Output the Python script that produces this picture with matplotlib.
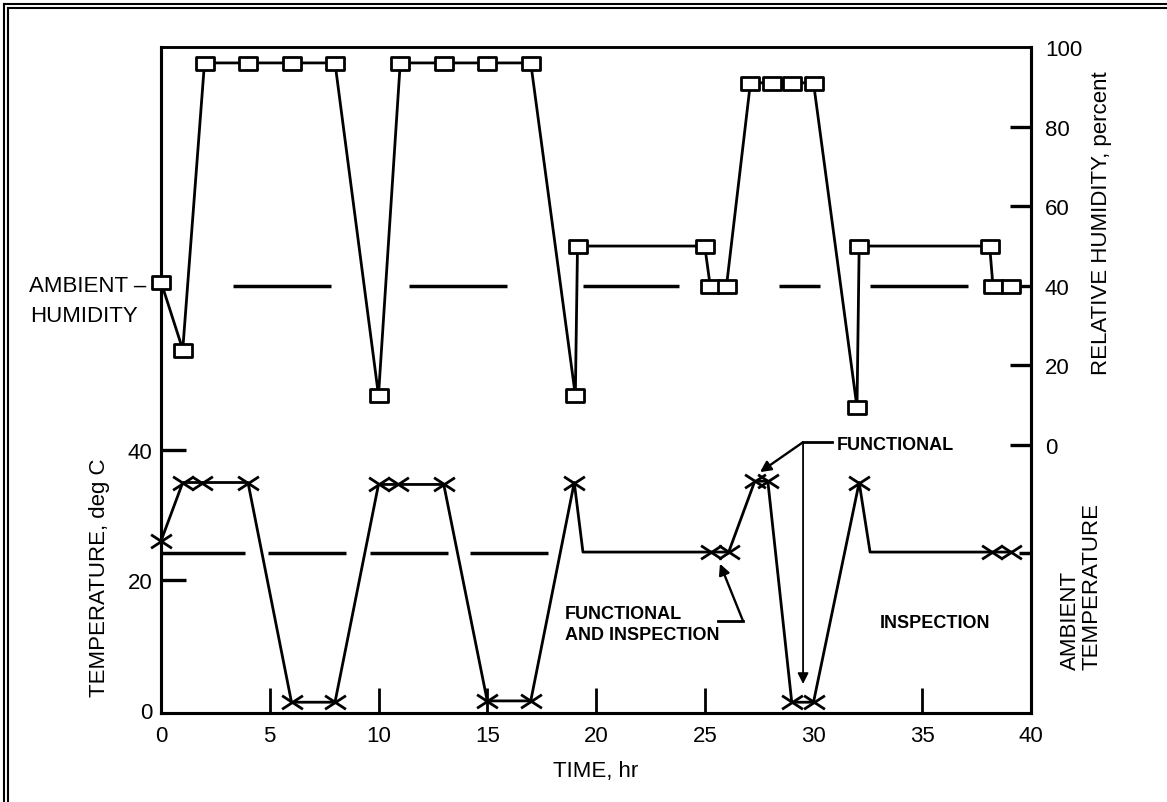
import matplotlib
matplotlib.use("Agg")
import matplotlib.pyplot as plt
from matplotlib.path import Path
from matplotlib.lines import Line2D
from matplotlib import font_manager

names = {f.name for f in font_manager.fontManager.ttflist}
main_font = 'Liberation Sans Narrow' if 'Liberation Sans Narrow' in names else 'Liberation Sans'
plt.rcParams['font.family'] = [main_font, 'Liberation Sans', 'DejaVu Sans']
narrow = main_font == 'Liberation Sans Narrow'
FS = 18 if narrow else 16

# ---------------- data ----------------
hum_time = [0, 1, 2, 4, 6, 8, 10, 11, 13, 15, 17, 19.05, 19.15, 25.0, 25.25, 26.0,
            27.1, 28.1, 29.0, 30.0, 32.0, 32.1, 38.1, 38.25, 39.1]
hum_rh = [41, 24, 96, 96, 96, 96, 12.5, 96, 96, 96, 96, 12.5, 50, 50, 40, 40,
          91, 91, 91, 91, 9.5, 50, 50, 40, 40]

temp_time = [0, 1, 1.9, 4, 6, 8, 10, 10.9, 13, 15, 17, 19, 19.4, 25.3, 26.1,
             27.3, 27.9, 29.0, 30.0, 32.1, 32.6, 38.2, 39.1]
temp_degc = [26, 35, 35, 35, 1.2, 1.2, 34.7, 34.7, 34.7, 1.4, 1.4, 35, 24.3, 24.3, 24.3,
             35.2, 35.2, 1.2, 1.2, 35, 24.3, 24.3, 24.3]
temp_marked = [0, 1, 2, 3, 4, 5, 6, 7, 8, 9, 10, 11, 13, 14, 15, 16, 17, 18, 19, 21, 22]

ambient_rh = 40
ambient_rh_dashes = [(3.3, 7.8), (11.4, 15.9), (19.4, 23.8), (28.4, 30.3), (32.6, 37.1)]
ambient_temp = 24.2
ambient_temp_dashes = [(0.0, 3.85), (4.9, 8.5), (9.6, 13.2), (14.2, 17.8), (39.45, 39.95)]

time_ticks = [0, 5, 10, 15, 20, 25, 30, 35, 40]
time_tick_hidden = [0, 30, 40]
temp_ticks = [0, 20, 40]
temp_tick_hidden = [0]
rh_ticks = [0, 20, 40, 60, 80, 100]
rh_tick_hidden = [100]

# ---------------- layout ----------------
W, H = 1167, 803
fig = plt.figure(figsize=(W / 100, H / 100), dpi=100)


def fx(px):
    return px / W


def fy(py):
    return 1 - py / H


L, R, T, B = 161, 1031, 48, 714
ax = fig.add_axes([fx(L), fy(B), (R - L) / W, (B - T) / H])
ax.set_xlim(0, 40)
ax.set_ylim(-0.46, 102)
ax2 = ax.twinx()
ax2.set_ylim(-67.3, 100)

for a in (ax, ax2):
    for s in a.spines.values():
        s.set_linewidth(2.2)
        s.set_color('black')
    a.spines['top'].set_linewidth(1.8)
    a.patch.set_visible(False)

# frame (double border left & top)
lw_b = 1.5
fig.add_artist(Line2D([fx(3.7), fx(3.7)], [fy(5), 0], color='black', lw=lw_b))
fig.add_artist(Line2D([fx(3.7), 1], [fy(5), fy(5)], color='black', lw=lw_b))
fig.add_artist(Line2D([fx(8.2), fx(8.2)], [fy(8.8), 0], color='black', lw=lw_b))
fig.add_artist(Line2D([fx(8.2), 1], [fy(8.8), fy(8.8)], color='black', lw=lw_b))

# markers
rect_marker = Path([(-1, -0.72), (1, -0.72), (1, 0.72), (-1, 0.72), (-1, -0.72)],
                   [Path.MOVETO, Path.LINETO, Path.LINETO, Path.LINETO, Path.CLOSEPOLY])
x_marker = Path([(-1, -0.65), (1, 0.65), (-1, 0.65), (1, -0.65)],
                [Path.MOVETO, Path.LINETO, Path.MOVETO, Path.LINETO])

# ambient dashed lines
for a0, a1 in ambient_rh_dashes:
    ax2.plot([a0, a1], [ambient_rh, ambient_rh], color='black', lw=2.5, solid_capstyle='butt')
for a0, a1 in ambient_temp_dashes:
    ax.plot([a0, a1], [ambient_temp, ambient_temp], color='black', lw=2.5, solid_capstyle='butt')

# series
ax.plot(temp_time, temp_degc, color='black', lw=2.0, marker=x_marker, markersize=15,
        markeredgewidth=2.0, markevery=temp_marked, clip_on=False, zorder=3)
ax2.plot(hum_time, hum_rh, color='black', lw=2.0, marker=rect_marker, markersize=13,
         markeredgewidth=2.0, markerfacecolor='white', markeredgecolor='black',
         clip_on=False, zorder=3)

# ticks
ax.set_xticks(time_ticks)
ax.set_xticklabels([str(t) for t in time_ticks])
ax.set_yticks(temp_ticks)
ax.set_yticklabels([str(t) for t in temp_ticks])
ax2.set_yticks(rh_ticks)
ax2.set_yticklabels([str(t) for t in rh_ticks])

ax.tick_params(axis='x', direction='in', length=18, width=2, labelsize=FS, pad=9,
               top=False)
ax.tick_params(axis='y', direction='in', length=18, width=2.4, labelsize=FS, pad=6,
               right=False)
ax2.tick_params(axis='y', direction='in', length=15, width=2.4, labelsize=FS, pad=10,
                left=False)

for tk in ax.xaxis.get_major_ticks():
    if tk.get_loc() in time_tick_hidden:
        tk.tick1line.set_visible(False)
for tk in ax.yaxis.get_major_ticks():
    if tk.get_loc() in temp_tick_hidden:
        tk.tick1line.set_visible(False)
for tk in ax2.yaxis.get_major_ticks():
    if tk.get_loc() in rh_tick_hidden:
        tk.tick2line.set_visible(False)

# axis labels
fig.text(fx(596), fy(772), "TIME, hr", ha='center', va='center', fontsize=FS)
fig.text(fx(100), fy(578), "TEMPERATURE, deg C", ha='center', va='center',
         rotation=90, fontsize=FS)
fig.text(fx(1101), fy(223), "RELATIVE HUMIDITY, percent", ha='center', va='center',
         rotation=90, fontsize=FS)
fig.text(fx(1081), fy(670), "AMBIENT\nTEMPERATURE", ha='center', va='bottom',
         rotation=90, fontsize=FS, multialignment='left', linespacing=1.0)
fig.text(fx(29), fy(286), "AMBIENT \u2013", ha='left', va='center', fontsize=FS)
fig.text(fx(30), fy(317), "HUMIDITY", ha='left', va='center', fontsize=FS)

# annotations (temperature axes data coords)
ann_kw = dict(fontsize=13, fontweight='bold', family=['Liberation Sans', 'DejaVu Sans'])
arrow_kw = dict(arrowstyle='-|>', lw=1.7, color='black', mutation_scale=16,
                shrinkA=0, shrinkB=0)
ax.text(31.08, 40.9, "FUNCTIONAL", ha='left', va='center', **ann_kw)
ax.plot([29.52, 30.85], [41.2, 41.2], color='black', lw=2.0, clip_on=False)
ax.annotate("", xy=(27.54, 36.6), xytext=(29.52, 41.2), arrowprops=arrow_kw,
            annotation_clip=False)
ax.annotate("", xy=(29.52, 4.0), xytext=(29.52, 41.2),
            arrowprops=dict(arrow_kw, lw=1.3), annotation_clip=False)

ax.text(18.57, 13.3, "FUNCTIONAL\nAND INSPECTION", ha='left', va='center',
        multialignment='left', linespacing=1.3, **ann_kw)
ax.plot([25.6, 26.76], [13.7, 13.7], color='black', lw=2.0)
ax.annotate("", xy=(25.7, 22.5), xytext=(26.76, 13.7), arrowprops=arrow_kw)

ax.text(33.06, 13.5, "INSPECTION", ha='left', va='center', **ann_kw)

fig.savefig("out.png", dpi=100, facecolor='white')
